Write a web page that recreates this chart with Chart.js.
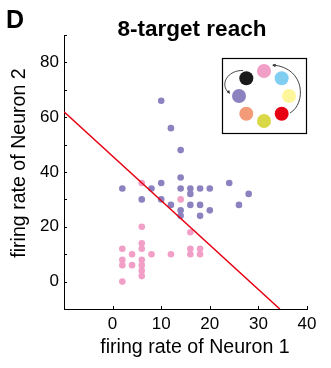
<!DOCTYPE html>
<html lang="en">
<head>
<meta charset="UTF-8">
<title>8-target reach</title>
<script src="https://cdn.jsdelivr.net/npm/chart.js"></script>
<style>
  html, body { margin: 0; padding: 0; background: #fff; }
  #wrap { width: 331px; height: 368px; }
</style>
</head>
<body>
<div id="wrap"><canvas id="c" width="331" height="368"></canvas></div>
<script>
// data
const purpleX = [10, 12, 14, 14, 10, 2, 8, 14, 16, 18, 20, 24, 28, 16, 6, 10, 12, 16, 18, 26, 14, 20, 14, 18];
const purpleY = [66, 56, 48, 38, 36, 34, 34, 34, 34, 34, 34, 36, 32, 32, 30, 30, 28, 28, 28, 28, 26, 26, 24, 24];
const pinkX = [6, 14, 6, 16, 2, 6, 6, 4, 8, 12, 16, 16, 18, 18, 2, 2, 4, 6, 6, 6, 6, 2];
const pinkY = [36, 30, 20, 18, 12, 14, 12, 10, 10, 10, 12, 10, 12, 10, 8, 6, 6, 8, 6, 4, 2, 0];
const boundaryX = [-10, 34.4];
const boundaryY = [62, -10];
const xTickLabels = [0, 10, 20, 30, 40];
const yTickLabels = [0, 20, 40, 60, 80];
// inset targets, clockwise from the top
const targetColors = ['#f19fc6', '#80cff3', '#fdf69a', '#e60012', '#d9d848', '#f39a78', '#8c82bf', '#1a1a1a'];

const FONT = '"Liberation Sans", Arial, sans-serif';
Chart.defaults.font.family = FONT;
Chart.defaults.color = '#000';

const pts = (xs, ys) => xs.map((x, i) => ({ x: x, y: ys[i] }));

const decor = {
  id: 'decor',
  afterDatasetsDraw(chart) {
    // inward tick marks
    const ctx = chart.ctx, a = chart.chartArea;
    const xs = chart.scales.x, ys = chart.scales.y;
    ctx.save();
    ctx.strokeStyle = '#000';
    ctx.lineWidth = 1;
    ctx.beginPath();
    xs.ticks.forEach(t => {
      if (t.value <= xs.min) return;
      const px = Math.round(xs.getPixelForValue(t.value)) + 0.5;
      ctx.moveTo(px, a.bottom);
      ctx.lineTo(px, a.bottom - 3);
    });
    ys.ticks.forEach(t => {
      if (t.value <= ys.min) return;
      const py = Math.round(ys.getPixelForValue(t.value)) + 0.5;
      ctx.moveTo(a.left, py);
      ctx.lineTo(a.left + 3, py);
    });
    ctx.stroke();
    ctx.restore();
  },
  afterDraw(chart) {
    const ctx = chart.ctx, a = chart.chartArea;
    ctx.save();
    ctx.fillStyle = '#000';
    ctx.textBaseline = 'alphabetic';
    ctx.font = 'bold 25px ' + FONT;
    ctx.textAlign = 'left';
    ctx.fillText('D', 6, 28);
    ctx.font = 'bold 22.5px ' + FONT;
    ctx.textAlign = 'center';
    ctx.fillText('8-target reach', 192, 36);

    // axis titles (sit a little off the axis centres, as in the figure)
    ctx.font = '19.6px ' + FONT;
    ctx.fillText('firing rate of Neuron 1', 195, 353);
    ctx.save();
    ctx.translate(25, 163);
    ctx.rotate(-Math.PI / 2);
    ctx.fillText('firing rate of Neuron 2', 0, 0);
    ctx.restore();

    // inset: 8 targets on a ring
    const bw = 84, bh = 75;
    const bx = a.right - 1 - bw, by = a.top + 23;
    ctx.fillStyle = '#fff';
    ctx.fillRect(bx, by, bw, bh);
    ctx.strokeStyle = '#000';
    ctx.lineWidth = 1.2;
    ctx.strokeRect(bx + 0.5, by + 0.5, bw, bh);
    const cx = bx + bw / 2, cy = by + bh / 2 + 0.5, R = 25;
    targetColors.forEach((c, i) => {
      const ang = -Math.PI / 2 + i * Math.PI / 4;
      ctx.beginPath();
      ctx.arc(cx + R * Math.cos(ang), cy + R * Math.sin(ang), 7, 0, Math.PI * 2);
      ctx.fillStyle = c;
      ctx.fill();
    });
    // curved arrows
    ctx.strokeStyle = '#333';
    ctx.fillStyle = '#333';
    ctx.lineWidth = 0.9;
    const arrowHead = (x, y, ang) => {
      ctx.beginPath();
      ctx.moveTo(x, y);
      ctx.lineTo(x - 4 * Math.cos(ang - 0.45), y - 4 * Math.sin(ang - 0.45));
      ctx.lineTo(x - 4 * Math.cos(ang + 0.45), y - 4 * Math.sin(ang + 0.45));
      ctx.closePath();
      ctx.fill();
    };
    ctx.beginPath();
    ctx.moveTo(cx - 21, cy - 25.5);
    ctx.bezierCurveTo(cx - 36, cy - 26, cx - 45, cy - 12, cx - 35, cy - 3);
    ctx.stroke();
    arrowHead(cx - 34, cy - 2, Math.PI * 0.3);
    ctx.beginPath();
    ctx.moveTo(cx + 26, cy + 17);
    ctx.bezierCurveTo(cx + 42, cy + 8, cx + 42, cy - 28, cx + 9, cy - 31);
    ctx.stroke();
    arrowHead(cx + 8, cy - 31, Math.PI * 1.05);
    ctx.restore();
  }
};

new Chart(document.getElementById('c'), {
  type: 'scatter',
  data: {
    datasets: [
      {
        type: 'line',
        data: pts(boundaryX, boundaryY),
        borderColor: '#e60012',
        borderWidth: 1.5,
        pointRadius: 0,
        fill: false,
        order: 0
      },
      {
        data: pts(purpleX, purpleY),
        backgroundColor: '#8c82bf',
        borderWidth: 0,
        pointRadius: 3.3,
        order: 1
      },
      {
        data: pts(pinkX, pinkY),
        backgroundColor: '#f19fc6',
        borderWidth: 0,
        pointRadius: 3.3,
        order: 2
      }
    ]
  },
  options: {
    responsive: false,
    animation: false,
    layout: { padding: { top: 35, right: 24, left: 0, bottom: 0 } },
    plugins: { legend: { display: false }, tooltip: { enabled: false } },
    scales: {
      x: {
        type: 'linear',
        min: -10, max: 40,
        afterFit: s => { s.height = 59; },
        grid: { display: true, drawOnChartArea: false, drawTicks: false },
        border: { display: true, color: '#000', width: 1 },
        ticks: {
          stepSize: 10, autoSkip: false, maxRotation: 0, padding: 5,
          font: { size: 17 },
          callback: v => xTickLabels.includes(v) ? String(v) : ''
        }
      },
      y: {
        type: 'linear',
        min: -10, max: 90,
        afterFit: s => { s.width = 64; },
        grid: { display: true, drawOnChartArea: false, drawTicks: false },
        border: { display: true, color: '#000', width: 1 },
        ticks: {
          stepSize: 10, autoSkip: false, padding: 5,
          font: { size: 17 },
          callback: v => yTickLabels.includes(v) ? String(v) : ''
        }
      }
    }
  },
  plugins: [decor]
});
</script>
</body>
</html>
